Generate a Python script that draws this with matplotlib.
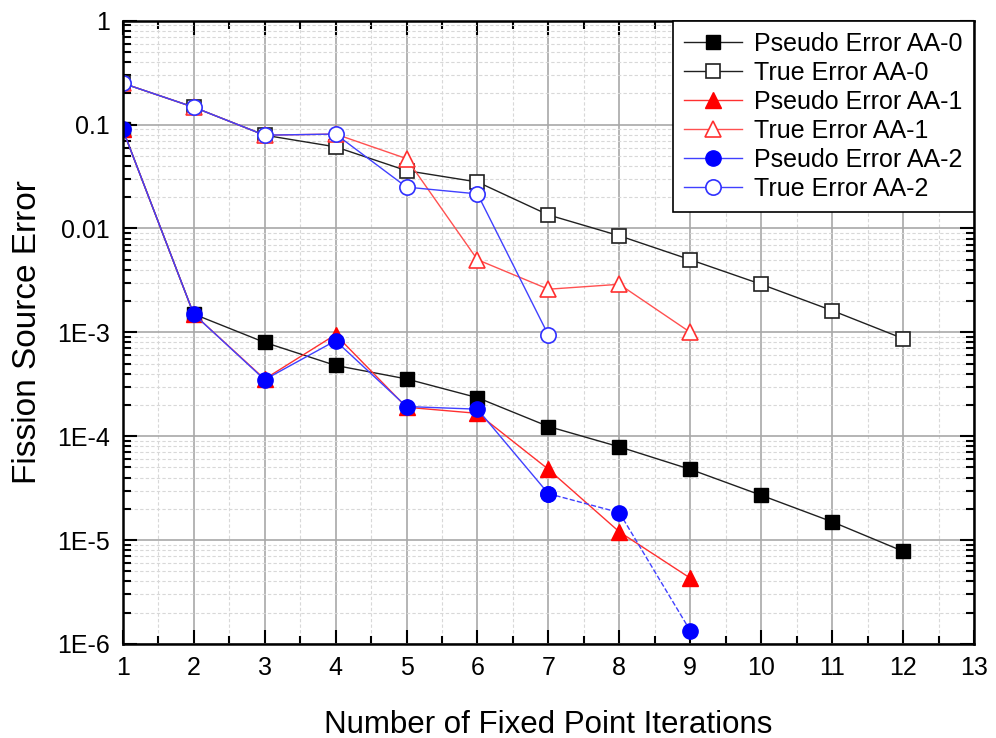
import matplotlib
matplotlib.use('Agg')
import matplotlib.pyplot as plt
from matplotlib.ticker import FixedLocator, FixedFormatter, MultipleLocator, LogLocator, NullFormatter

plt.rcParams['font.family'] = ['Liberation Sans', 'DejaVu Sans']

iters = [1, 2, 3, 4, 5, 6, 7, 8, 9, 10, 11, 12]

# AA-0
pseudo_aa0 = [0.09, 1.5e-3, 8.0e-4, 4.8e-4, 3.56e-4, 2.35e-4, 1.24e-4, 7.9e-5, 4.8e-5, 2.7e-5, 1.5e-5, 7.8e-6]
true_aa0 = [0.25, 0.147, 0.079, 0.061, 0.036, 0.028, 0.0135, 0.0085, 0.0050, 0.0029, 0.00162, 8.7e-4]
# AA-1 (9 iterations)
pseudo_aa1 = [0.09, 1.5e-3, 3.55e-4, 9.5e-4, 1.9e-4, 1.66e-4, 4.8e-5, 1.2e-5, 4.3e-6]
true_aa1 = [0.25, 0.147, 0.079, 0.081, 0.047, 0.005, 0.0026, 0.0029, 1.0e-3]
# AA-2
pseudo_aa2 = [0.09, 1.5e-3, 3.5e-4, 8.3e-4, 1.93e-4, 1.82e-4, 2.8e-5, 1.84e-5, 1.34e-6]
true_aa2 = [0.25, 0.147, 0.079, 0.081, 0.025, 0.0215, 9.4e-4]

ytick_vals = [1e-6, 1e-5, 1e-4, 1e-3, 1e-2, 1e-1, 1]
ytick_labels = ['1E-6', '1E-5', '1E-4', '1E-3', '0.01', '0.1', '1']

fig = plt.figure(figsize=(9.96, 7.38), dpi=100)
ax = fig.add_axes([0.1232, 0.1274, 0.8548, 0.8446])

lw = 1.0
ax.plot(iters, pseudo_aa0, '-', color='#202020', lw=lw, marker='s', ms=9.5,
        mfc='black', mec='black', label='Pseudo Error AA-0')
ax.plot(iters, true_aa0, '-', color='#202020', lw=lw, marker='s', ms=9.5,
        mfc='white', mec='#202020', mew=1.2, label='True Error AA-0')
n1 = len(pseudo_aa1)
ax.plot(iters[:n1], pseudo_aa1, '-', color='#ff3030', lw=lw, marker='^', ms=12,
        mfc='red', mec='red', label='Pseudo Error AA-1')
ax.plot(iters[:n1], true_aa1, '-', color='#ff5050', lw=lw, marker='^', ms=12,
        mfc='white', mec='#ff3030', mew=1.2, label='True Error AA-1')
# AA-2 pseudo: solid up to iteration 7, dashed afterwards
ax.plot(iters[6:n1], pseudo_aa2[6:], '--', color='#4040ff', lw=lw, zorder=2)
ax.plot(iters[:7], pseudo_aa2[:7], '-', color='#4040ff', lw=lw, marker='o', ms=11,
        mfc='blue', mec='blue', label='Pseudo Error AA-2')
ax.plot(iters[6:n1], pseudo_aa2[6:], 'none', marker='o', ms=11, mfc='blue', mec='blue')
n2 = len(true_aa2)
ax.plot(iters[:n2], true_aa2, '-', color='#4040ff', lw=lw, marker='o', ms=11,
        mfc='white', mec='#3030ff', mew=1.2, label='True Error AA-2')

ax.set_yscale('log')
ax.set_xlim(1, 13)
ax.set_ylim(1e-6, 1)

ax.xaxis.set_major_locator(MultipleLocator(1))
ax.xaxis.set_minor_locator(MultipleLocator(0.5))
ax.yaxis.set_major_locator(FixedLocator(ytick_vals))
ax.yaxis.set_major_formatter(FixedFormatter(ytick_labels))
ax.yaxis.set_minor_locator(LogLocator(base=10, subs=range(2, 10), numticks=20))
ax.yaxis.set_minor_formatter(NullFormatter())

ax.grid(True, which='major', color='#a8a8a8', lw=1.2, ls='-')
ax.grid(True, which='minor', color='#d8d8d8', lw=0.8, ls=(0, (3, 2)))
ax.set_axisbelow(True)

ax.tick_params(which='both', direction='in', top=True, right=True, width=1.5)
ax.tick_params(which='major', length=10, labelsize=18, pad=9)
ax.tick_params(which='minor', length=6)
for s in ax.spines.values():
    s.set_linewidth(1.8)

ax.set_xlabel('Number of Fixed Point Iterations', fontsize=22.5, labelpad=21)
ax.set_ylabel('Fission Source Error', fontsize=24, labelpad=10)

leg = ax.legend(loc='upper right', bbox_to_anchor=(1.0, 1.0), borderaxespad=0,
                fontsize=18, fancybox=False, framealpha=1, edgecolor='black',
                handlelength=2.3, labelspacing=0.2, handletextpad=0.5,
                borderpad=0.45)
leg.get_frame().set_linewidth(1.2)

plt.savefig('out.png', dpi=100)
